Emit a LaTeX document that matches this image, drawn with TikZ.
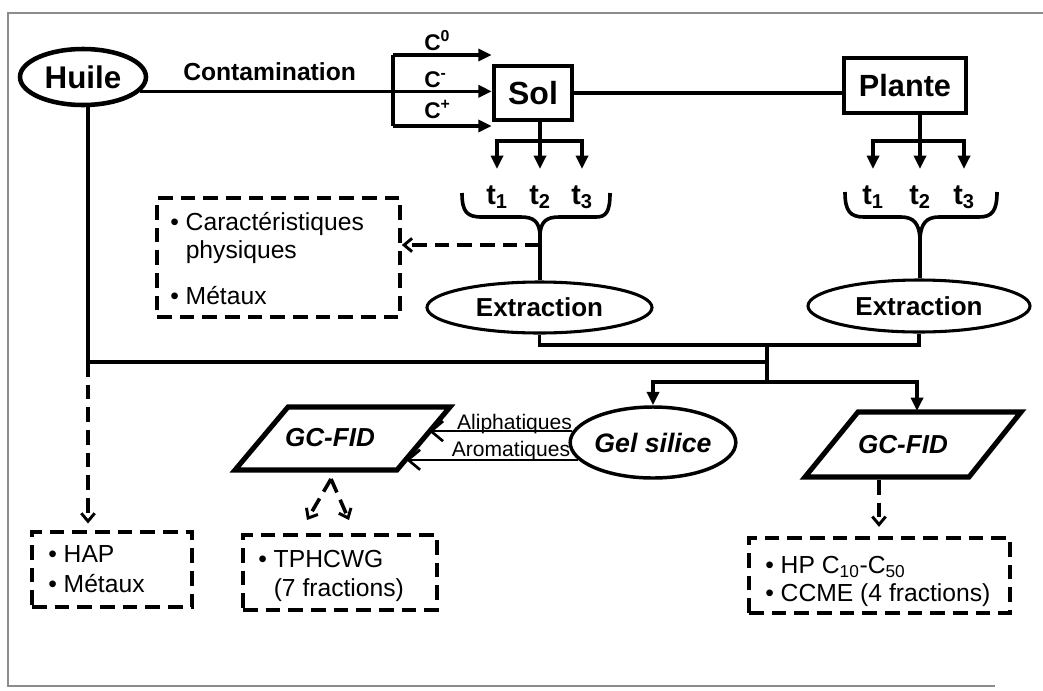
\documentclass[tikz,border=0pt]{standalone}
\usepackage{fontspec}
\setmainfont{Liberation Sans}
\usetikzlibrary{arrows.meta,shapes.geometric,calc}
\newcommand\fsz[1]{\fontsize{#1}{#1}\selectfont}
\tikzset{
  ln/.style={line width=2.7pt},
  tri/.style={-{Triangle[length=10pt,width=9pt]}},
  dsh/.style={line width=2.7pt, dash pattern=on 11pt off 6pt},
  dsharr/.style={dsh, -{Straight Barb[length=6pt,width=10pt,line width=2.2pt]}},
  thinarr/.style={line width=1.7pt, -{Straight Barb[length=9pt,width=15pt,line width=2pt]}},
  oval/.style={ellipse, draw, inner sep=0pt},
  boxn/.style={rectangle, draw, line width=3.4pt, inner sep=0pt},
  dbox/.style={rectangle, draw, dsh, inner sep=0pt},
  para/.style={line width=3.8pt, line join=miter},
  txt/.style={anchor=base west, inner sep=0pt, font=\fsz{18.5}},
  tlab/.style={anchor=base, inner sep=0pt, font=\bfseries\fsz{21.5}},
  clab/.style={anchor=base west, inner sep=0pt, font=\bfseries\fsz{17}},
  frame/.style={draw=black!45, line width=1.1pt},
}
\begin{document}
\begin{tikzpicture}[x=0.75pt,y=-0.75pt]
\useasboundingbox (0,0) rectangle (1043,690);
\fill[white] (0,0) rectangle (1043,690);
% outer frame
\draw[frame] (1043,13) -- (8,13) -- (8,686) -- (995,686);

% --- oil and contamination ---
\node[oval, line width=3.4pt, minimum width=94.5pt, minimum height=42pt, font=\bfseries\fsz{23.5}] (huile) at (83,77) {Huile};
\node[anchor=base west, inner sep=0pt, font=\bfseries\fsz{18.5}] (contam) at (183,80) {Contamination};

\node[boxn, minimum width=58.5pt, minimum height=40.5pt, font=\bfseries\fsz{24}] (sol) at (533,93) {Sol};
\node[boxn, minimum width=91.5pt, minimum height=41.25pt, font=\bfseries\fsz{23}] (plante) at (905,85.5) {Plante};

% three contamination levels
\coordinate (inTop) at (393,55);
\coordinate (inBot) at (393,126);
\draw[ln] (inTop) -- (inBot);
\draw[ln,tri] (inTop) -- (inTop -| sol.west);
\draw[ln,tri] (inBot) -- (inBot -| sol.west);
\draw[ln,tri] (huile.-14) -- (huile.-14 -| sol.west);
\node[clab] (c0) at (424,50) {C\textsuperscript{0}};
\node[clab] (cm) at (424,87) {C\textsuperscript{-}};
\node[clab] (cp) at (424,118) {C\textsuperscript{+}};

\draw[ln] (sol.east) -- (sol.east -| plante.west);

% --- sampling times, soil ---
\coordinate (solJ) at (540,141);
\draw[ln] (solJ |- sol.south) -- (solJ);
\node[tlab] (ts1) at (497,204) {t\textsubscript{1}};
\node[tlab] (ts2) at (540,204) {t\textsubscript{2}};
\node[tlab] (ts3) at (582,204) {t\textsubscript{3}};
\draw[ln,tri] (solJ) -| ($(ts1.base)+(0,-35)$);
\draw[ln,tri] (solJ) -- ($(ts2.base)+(0,-35)$);
\draw[ln,tri] (solJ) -| ($(ts3.base)+(0,-35)$);

% --- sampling times, plant ---
\coordinate (plJ) at (920,141);
\draw[ln] (plJ |- plante.south) -- (plJ);
\node[tlab] (tp1) at (873,204) {t\textsubscript{1}};
\node[tlab] (tp2) at (920,204) {t\textsubscript{2}};
\node[tlab] (tp3) at (964,204) {t\textsubscript{3}};
\draw[ln,tri] (plJ) -| ($(tp1.base)+(0,-35)$);
\draw[ln,tri] (plJ) -- ($(tp2.base)+(0,-35)$);
\draw[ln,tri] (plJ) -| ($(tp3.base)+(0,-35)$);

% braces
\coordinate (solTip) at (540,234);
\coordinate (plTip) at (920,238);
\draw[ln] (462,193) .. controls (462,212) and (467,217) .. (482,217) -- (521,217)
  .. controls (534,217) and (539,222) .. (solTip)
  .. controls (541,222) and (546,217) .. (559,217) -- (596,217)
  .. controls (606,217) and (610,212) .. (610,193);
\draw[ln] (845,192) .. controls (845,211) and (850,217) .. (864,217) -- (901,217)
  .. controls (914,217) and (919,224) .. (plTip)
  .. controls (921,224) and (926,217) .. (939,217) -- (979,217)
  .. controls (992,217) and (997,211) .. (997,192);

% --- extractions ---
\node[oval, line width=2.3pt, minimum width=168.75pt, minimum height=38.25pt, font=\bfseries\fsz{19.5}] (extS) at (539.5,307.5) {Extraction};
\node[oval, line width=2.3pt, minimum width=166.5pt, minimum height=39pt, font=\bfseries\fsz{19.5}] (extP) at (919,306) {Extraction};
\draw[ln] (solTip) -- (solTip |- extS.north);
\draw[ln] (plTip) -- (plTip |- extP.north);

% physical characteristics
\node[dbox, minimum width=182.25pt, minimum height=89.25pt] (boxCar) at (278.5,257.5) {};
\coordinate (solDash) at (540,245);
\draw[dsharr] (solDash) -- (solDash -| boxCar.east);
\node[txt] (car1) at (170,230) {• Caractéristiques};
\node[txt] (car2) at (170,258) {\phantom{• }physiques};
\node[txt] (car3) at (170,304) {• Métaux};

% --- merging of extracts ---
\coordinate (merge) at (767,345);
\coordinate (split) at (767,382);
\coordinate (hCorner) at (88,362);
\draw[ln] (extS.south) -- (extS.south |- merge) -- (extP.south |- merge) -- (extP.south);
\draw[ln] (merge) -- (split);
\draw[ln] (hCorner |- huile.south) -- (hCorner) -- (hCorner -| merge);

% --- analyses ---
\node[oval, line width=2.6pt, minimum width=118.5pt, minimum height=53.25pt, font=\bfseries\itshape\fsz{20}] (gel) at (653,442.5) {Gel silice};

\coordinate (gLtl) at (288,407);
\coordinate (gLtr) at (450,407);
\coordinate (gLbr) at (397,470);
\coordinate (gLbl) at (235,470);
\draw[para] (gLtl) -- (gLtr) -- (gLbr) -- (gLbl) -- cycle;
\node[inner sep=0pt, font=\bfseries\itshape\fsz{19.5}] (gcL) at (330,438) {GC-FID};

\coordinate (gRtl) at (858,412);
\coordinate (gRtr) at (1021,412);
\coordinate (gRbr) at (969,477);
\coordinate (gRbl) at (805,477);
\draw[para] (gRtl) -- (gRtr) -- (gRbr) -- (gRbl) -- cycle;
\node[inner sep=0pt, font=\bfseries\itshape\fsz{19.5}] (gcR) at (903,445) {GC-FID};

\coordinate (gRin) at (917,411);
\draw[ln,tri] (split) -| (gel.north);
\draw[ln,tri] (split) -| (gRin);

% fractions from the silica gel
\coordinate (aliEnd) at (429,432);
\coordinate (aroEnd) at (406,459);
\draw[thinarr] (gel.172) -- (gel.172 -| aliEnd);
\draw[thinarr] (gel.193) -- (gel.193 -| aroEnd);
\node[anchor=base, inner sep=0pt, font=\fsz{15.8}] (ali) at (514.5,429) {Aliphatiques};
\node[anchor=base, inner sep=0pt, font=\fsz{15.8}] (aro) at (511,456) {Aromatiques};

% result boxes
\node[dbox, minimum width=120pt, minimum height=56.25pt] (boxHAP) at (112,569.5) {};
\node[dbox, minimum width=145.5pt, minimum height=56.25pt] (boxTPH) at (340,572.5) {};
\node[dbox, minimum width=195.75pt, minimum height=56.25pt] (boxHP) at (879.5,575.5) {};

\draw[dsharr, shorten >=5pt] (hCorner) -- (hCorner |- boxHAP.north);

\coordinate (gLout) at (331,479);
\coordinate (tA) at (307,520);
\coordinate (tB) at (349,520);
\draw[dsharr] (gLout) -- (tA);
\draw[dsharr] (gLout) -- (tB);

\coordinate (gRout) at (879,480);
\draw[dsharr, shorten >=7pt] (gRout) -- (gRout |- boxHP.north);

\node[txt] (hap1) at (48,562) {• HAP};
\node[txt] (hap2) at (48,592) {• Métaux};
\node[txt] (tph1) at (258,567) {• TPHCWG};
\node[txt] (tph2) at (258,596) {\phantom{• }(7 fractions)};
\node[txt] (hp1) at (765,573) {• HP C\textsubscript{10}-C\textsubscript{50}};
\node[txt] (hp2) at (765,601) {• CCME (4 fractions)};
\end{tikzpicture}
\end{document}
